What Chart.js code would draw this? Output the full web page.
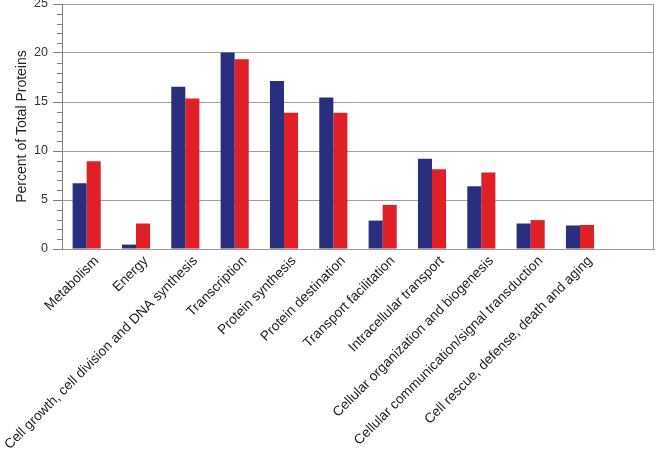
<!DOCTYPE html>
<html><head><meta charset="utf-8">
<script src="https://cdn.jsdelivr.net/npm/chart.js@4/dist/chart.umd.min.js"></script>
<style>html,body{margin:0;padding:0;background:#fff}#wrap{width:656px;height:453px}</style>
</head><body><div id="wrap"><canvas id="c" width="656" height="453"></canvas></div>
<script>
const categories = ["Metabolism","Energy","Cell growth, cell division and DNA synthesis","Transcription","Protein synthesis","Protein destination","Transport facilitation","Intracellular transport","Cellular organization and biogenesis","Cellular communication/signal transduction","Cell rescue, defense, death and aging",""];
const seriesBlue = [6.7,0.45,16.55,20.05,17.15,15.45,2.9,9.2,6.4,2.6,2.4,null];
const seriesRed = [8.95,2.6,15.35,19.35,13.9,13.9,4.5,8.15,7.8,2.95,2.45,null];
const yTicks = [0,5,10,15,20,25];

const minorTicks = {
  id:'minorTicks',
  afterDraw(chart){
    const y = chart.scales.y, ctx = chart.ctx;
    ctx.save(); ctx.strokeStyle='#808080'; ctx.lineWidth=1;
    for(let v=0; v<=25; v++){
      if(v%5===0) continue;
      const p = Math.round(y.getPixelForValue(v))+0.5;
      ctx.beginPath(); ctx.moveTo(y.right-5,p); ctx.lineTo(y.right,p); ctx.stroke();
    }
    ctx.restore();
  }
};

new Chart(document.getElementById('c'),{
  type:'bar',
  data:{labels:categories,datasets:[
    {data:seriesBlue,backgroundColor:'#2a2e7e',borderWidth:0},
    {data:seriesRed,backgroundColor:'#e01f27',borderWidth:0}
  ]},
  options:{
    responsive:false,animation:false,
    layout:{padding:{top:4,right:2,left:0,bottom:0}},
    plugins:{legend:{display:false},tooltip:{enabled:false}},
    datasets:{bar:{categoryPercentage:0.57,barPercentage:1}},
    scales:{
      x:{
        grid:{display:false,drawTicks:false},
        border:{color:'#999',width:1},
        ticks:{color:'#222',font:{family:'Liberation Sans, Arial',size:13.7},maxRotation:45,minRotation:45,autoSkip:false,padding:4,labelOffset:10},
        afterFit(s){s.height=204;s.paddingLeft=0;s.paddingRight=0;}
      },
      y:{
        min:0,max:25,
        afterBuildTicks(s){s.ticks=yTicks.map(v=>({value:v}));},
        grid:{color:'#a0a0a0',tickColor:'#808080',tickLength:9},
        border:{color:'#808080',width:1},
        ticks:{color:'#333',font:{family:'Liberation Sans, Arial',size:12.5},padding:5},
        title:{display:true,text:'Percent of Total Proteins',color:'#222',font:{family:'Liberation Sans, Arial',size:14},padding:{top:14,bottom:4}},
        afterFit(s){s.width=62;s.paddingTop=0;s.paddingBottom=0;}
      }
    }
  },
  plugins:[minorTicks,{id:'rb',afterDraw(chart){const a=chart.chartArea,ctx=chart.ctx;ctx.save();ctx.strokeStyle='#999';ctx.beginPath();ctx.moveTo(Math.round(a.right)-0.5,a.top);ctx.lineTo(Math.round(a.right)-0.5,a.bottom);ctx.stroke();ctx.restore();}}]
});
</script></body></html>
